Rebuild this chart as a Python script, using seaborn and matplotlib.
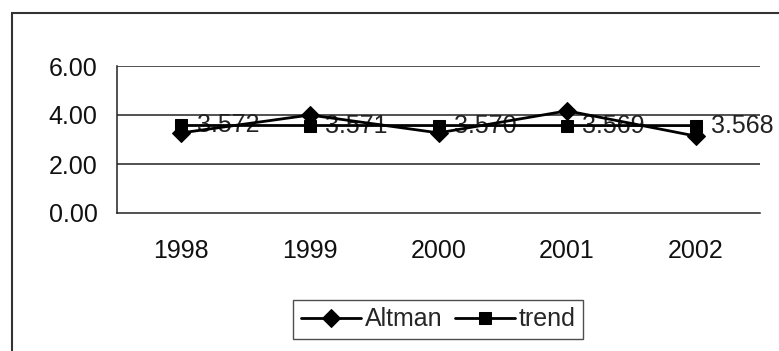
import matplotlib
matplotlib.use("Agg")
import matplotlib.pyplot as plt
import seaborn as sns
import pandas as pd
from matplotlib.patches import Rectangle

years = ["1998", "1999", "2000", "2001", "2002"]
altman = [3.27, 4.00, 3.27, 4.17, 3.14]
trend = [3.572, 3.571, 3.570, 3.569, 3.568]
trend_labels = ["3.572", "3.571", "3.570", "3.569", "3.568"]
y_ticks = [0, 2, 4, 6]
y_tick_labels = ["0.00", "2.00", "4.00", "6.00"]

sns.set_theme(style="white")
plt.rcParams["font.family"] = ["Liberation Sans", "DejaVu Sans"]
FS = 18

fig = plt.figure(figsize=(7.79, 3.51), dpi=100)
ax = fig.add_axes([117 / 779, 1 - 213 / 351, (760 - 117) / 779, (213 - 66) / 351])

df = pd.DataFrame({"year": years, "Altman": altman, "trend": trend})

sns.lineplot(data=df, x="year", y="Altman", ax=ax, color="black", lw=2,
             marker="D", markersize=9.5, markeredgecolor="black", label="Altman",
             sort=False, zorder=4)
sns.lineplot(data=df, x="year", y="trend", ax=ax, color="black", lw=2,
             marker="s", markersize=9, markeredgecolor="black", label="trend",
             sort=False, zorder=3)

for i, lab in enumerate(trend_labels):
    ax.annotate(lab, xy=(i, trend[i]), xytext=(11, 0), textcoords="offset points",
                ha="left", va="center", fontsize=FS, color="#222222", zorder=2)

ax.set_xlim(-0.5, len(years) - 0.5)
ax.set_ylim(0, 6)
ax.set_yticks(y_ticks)
ax.set_yticklabels(y_tick_labels)
ax.set_xticks([i - 0.5 for i in range(len(years) + 1)])
ax.set_xticklabels([])
ax.set_xticks(range(len(years)), minor=True)
ax.set_xticklabels(years, minor=True)
ax.tick_params(axis="x", which="major", direction="out", length=7, width=1, color="#222")
ax.tick_params(axis="x", which="minor", length=0, pad=19, labelsize=FS, labelcolor="#111")
ax.tick_params(axis="y", direction="out", length=6, width=1, color="#222", pad=8,
               labelsize=FS, labelcolor="#111")
ax.set_xlabel("")
ax.set_ylabel("")

for y in [2, 4, 6]:
    ax.axhline(y, color="#222", lw=1.1, zorder=1)
for s in ["top", "right"]:
    ax.spines[s].set_visible(False)
for s in ["left", "bottom"]:
    ax.spines[s].set_color("#222")
    ax.spines[s].set_linewidth(1.1)

leg = ax.legend(loc="center", bbox_to_anchor=(438 / 779, 1 - 319.5 / 351),
                bbox_transform=fig.transFigure, ncol=2, frameon=True, fancybox=False,
                fontsize=FS, handlelength=2.4, handletextpad=0.15, columnspacing=0.5,
                borderpad=0.3)
leg.get_frame().set_edgecolor("#222")
leg.get_frame().set_linewidth(1.0)

fig.add_artist(Rectangle((12 / 779, -0.2), 1.2, 1.2 - 13 / 351,
                         transform=fig.transFigure, fill=False, edgecolor="#333", lw=1.5))

fig.savefig("out.png", dpi=100)
